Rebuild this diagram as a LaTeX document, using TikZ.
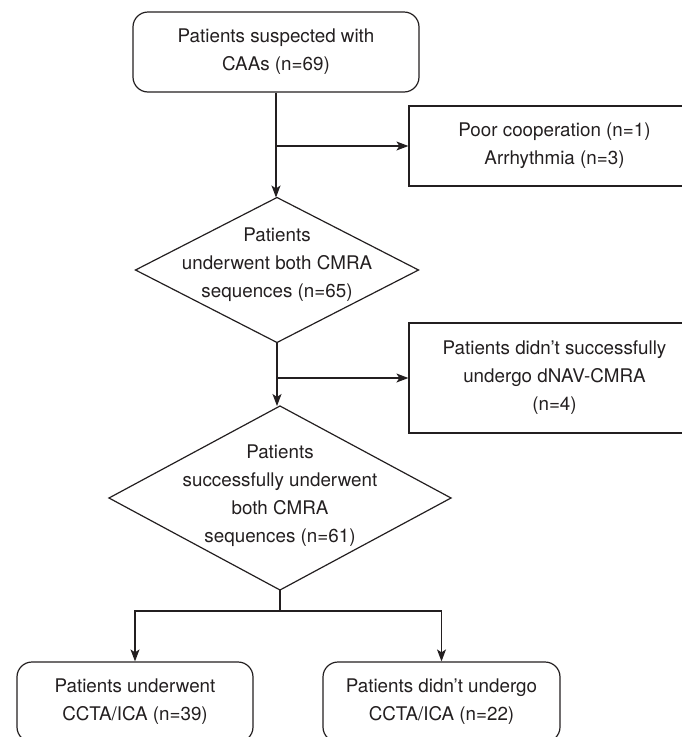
\documentclass[tikz,border=0pt]{standalone}
\usepackage{fontspec}
\setmainfont{TeX Gyre Heros}
\usetikzlibrary{arrows.meta,shapes.geometric,positioning}
\definecolor{inkgray}{HTML}{231F20}
\tikzset{
  flowline/.style={draw=inkgray, line width=1.2pt},
  flowarrow/.style={flowline, -{Stealth[length=12pt,width=9pt,inset=3pt]}},
  txt/.style={text=inkgray, align=center, font=\fontsize{18.8}{28}\selectfont},
  roundbox/.style={flowline, rectangle, rounded corners=15pt, txt, inner sep=0pt},
  plainbox/.style={flowline, rectangle, txt, inner sep=0pt},
  decision/.style={flowline, diamond, inner sep=0pt, outer sep=0pt},
}
\begin{document}
\begin{tikzpicture}[x=1pt,y=-1pt]
  \useasboundingbox (0,0) rectangle (681,737);

  % boxes
  \node[roundbox, minimum width=286pt, minimum height=80pt] (start) at (276,52)
       {Patients suspected with\\CAAs (n=69)};
  \node[plainbox, minimum width=291pt, minimum height=80pt] (excl1) at (554.5,146)
       {Poor cooperation (n=1)\\Arrhythmia (n=3)};
  \node[decision, minimum width=283pt, minimum height=145pt,
        label={[txt, yshift=5pt]center:{Patients\\underwent both CMRA\\sequences (n=65)}}] (cmra) at (277,270) {};
  \node[plainbox, minimum width=291pt, minimum height=110pt] (excl2) at (554.5,378)
       {Patients didn’t successfully\\undergo dNAV-CMRA\\(n=4)};
  \node[decision, minimum width=342pt, minimum height=184pt,
        label={[txt, yshift=2pt]center:{Patients\\successfully underwent\\both CMRA\\sequences (n=61)}}] (both) at (280,498) {};
  \coordinate (split) at (280,611);
  \node[roundbox, minimum width=236pt, minimum height=80pt] (ccta) at (135,702)
       {Patients underwent\\CCTA/ICA (n=39)};
  \node[roundbox, minimum width=237pt, minimum height=80pt] (noccta) at (441.5,702)
       {Patients didn’t undergo\\CCTA/ICA (n=22)};

  % connectors
  \draw[flowarrow] (start.south) -- (start.south |- cmra.north);
  \draw[flowarrow] (start.south |- excl1.west) -- (excl1.west);
  \draw[flowarrow] (cmra.south) -- (cmra.south |- both.north);
  \draw[flowarrow] (cmra.south |- excl2.west) -- (excl2.west);
  \draw[flowline] (both.south) -- (split);
  \draw[flowarrow] (split) -| (ccta.north);
  \draw[flowarrow] (split) -| (noccta.north);

\end{tikzpicture}
\end{document}
